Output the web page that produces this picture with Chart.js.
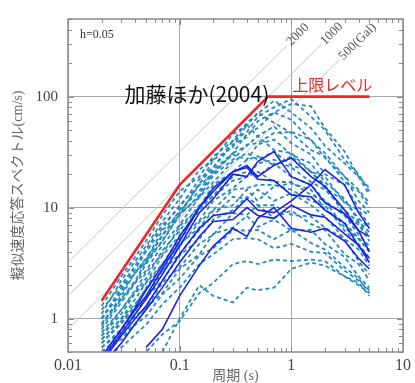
<!DOCTYPE html>
<html>
<head>
<meta charset="utf-8">
<script src="https://cdn.jsdelivr.net/npm/chart.js@4.4.0/dist/chart.umd.min.js"></script>
<style>
  html, body { margin: 0; padding: 0; background: #fff; }
</style>
</head>
<body>
<canvas id="chart" width="415" height="383"></canvas>
<script>
// periods (s) shared by all observed spectra
const periods = [0.02, 0.03, 0.04, 0.05, 0.07, 0.1, 0.15, 0.2, 0.3, 0.4, 0.5, 0.7, 1, 1.5, 2, 3, 4, 5];

// dashed records (cm/s)
const dashed01 = [1.3, 2.4, 3.6, 5.0, 8.5, 14, 19, 29, 40, 58, 70, 92, 72, 52, 36, 25, 19, 13];
const dashed02 = [1.2, 2.0, 3.0, 4.2, 7, 10, 18, 23, 40, 48, 66, 80, 95, 66, 50, 27, 20, 14];
const dashed03 = [1.0, 1.8, 2.6, 3.5, 5.5, 9.5, 14, 22, 31, 46, 52, 72, 86, 82, 52, 32, 19, 15];
const dashed04 = [1.1, 2.2, 3.3, 4.5, 7.5, 12, 22, 27, 46, 55, 72, 58, 47, 33, 29, 17, 14, 10];
const dashed05 = [1.0, 1.9, 2.8, 4.0, 6.5, 10.5, 16, 27, 35, 56, 44, 54, 38, 30, 20, 16, 10, 8.5];
const dashed06 = [0.9, 1.6, 2.6, 3.4, 6.2, 9, 16, 20, 31, 36, 44, 33, 31, 21, 19, 11, 9.5, 7];
const dashed07 = [0.85, 1.5, 2.1, 3.1, 5, 8.5, 13, 21, 30, 27, 37, 41, 30, 25, 17, 12, 7.5, 6];
const dashed08 = [0.8, 1.4, 2.1, 2.7, 4.6, 7, 12.5, 17, 26, 31, 27, 32, 24, 21, 15, 11.5, 8, 6.5];
const dashed09 = [0.75, 1.2, 1.8, 2.6, 3.8, 6.8, 10, 16, 21, 27, 29, 24, 29, 21, 16, 8.5, 7, 5];
const dashed10 = [0.7, 1.1, 1.7, 2.1, 3.7, 5.6, 9.5, 13, 19, 21, 19, 25, 19, 16, 11.5, 8.5, 5.7, 4.5];
const dashed11 = [0.65, 1.0, 1.5, 2.1, 3.1, 5.3, 7.6, 11.5, 15, 19, 21, 17, 17, 13, 11.5, 6.6, 5.2, 4];
const dashed12 = [0.6, 0.95, 1.3, 1.9, 3.1, 4.5, 7.4, 9.5, 14.5, 15, 16, 16, 14.5, 11.5, 10.5, 6.2, 4.7, 3.5];
const dashed13 = [0.6, 0.9, 1.25, 1.55, 2.7, 3.8, 6.3, 8.5, 12.5, 12, 14.5, 11.5, 13.5, 10.5, 8.3, 5.2, 4.2, 3];
const dashed14 = [0.55, 0.8, 1.1, 1.55, 2.2, 3.7, 5.2, 7.8, 9.5, 12.5, 10.5, 10.5, 8.6, 8.3, 6.6, 5.2, 3.3, 2.5];
const dashed15 = [0.55, 0.75, 1.05, 1.25, 2.1, 2.9, 4.7, 5.7, 8.9, 8.6, 10.5, 8.1, 9.4, 7.1, 6.3, 3.8, 3.1, 2.2];
const dashed16 = [0.5, 0.7, 0.9, 1.25, 1.7, 2.8, 3.8, 5.8, 6.6, 8.4, 6.7, 7.8, 6.2, 6.3, 4.7, 3.6, 2.4, 1.9];
const dashed17 = [0.5, 0.65, 0.88, 1.05, 1.65, 2.3, 3.7, 4.3, 6.3, 6.2, 6.3, 5.2, 6.3, 4.8, 4.2, 2.9, 2.3, 1.7];
const dashed18 = [0.45, 0.55, 0.72, 0.88, 1.35, 1.9, 3.1, 3.8, 5.2, 5.3, 5.2, 4.3, 4.7, 4.0, 3.9, 2.7, 2.2, 1.8];
const dashed19 = [null, 0.4, 0.45, 0.5, 0.72, 0.95, 1.7, 2.1, 3.1, 3.3, 3.1, 3.4, 3.3, 3.4, 3.3, 2.4, 2.1, 1.6];
const dashed20 = [null, null, null, null, 0.5, 1.0, 2.0, 1.6, 1.4, 1.9, 1.8, 1.9, 2.8, 3.2, 3.0, 2.4, 2.0, 1.7];
const dashed21 = [1.0, 1.7, 2.6, 3.2, 5.7, 8.6, 16.5, 23, 37, 43, 60, 72, 62, 40, 31, 19, 14.5, 11];
const dashed22 = [0.9, 1.5, 2.2, 3.3, 5.0, 8.8, 12.5, 19.5, 27, 37, 38, 47, 48, 41, 28, 19, 11.5, 9];
const dashed23 = [0.7, 1.2, 1.75, 2.3, 4.1, 6.2, 10.5, 12.5, 17.5, 19, 25, 27, 23, 17, 14.5, 9.5, 7.3, 5.5];
const dashed24 = [0.65, 1.0, 1.35, 1.85, 2.7, 4.7, 6.6, 9.4, 10.5, 14.5, 11.5, 15.5, 16.5, 14.5, 9.6, 7.3, 5.3, 4.2];

// solid records (cm/s)
const solid1 = [0.42, 0.74, 1.1, 1.5, 2.5, 4.5, 9, 12, 20, 19, 26, 32, 19, 16, 11, 8.8, 6.2, 5.5];
const solid2 = [0.4, 0.7, 1.0, 1.3, 2.2, 3.8, 6.5, 8.5, 9, 12, 9.5, 9, 11.5, 16, 22, 16, 9, 6.5];
const solid3 = [0.45, 0.8, 1.2, 1.6, 2.8, 5, 10, 14, 21, 23, 18, 17.5, 13, 12.5, 9.5, 7.2, 4.5, 3.5];
const solid4 = [null, null, null, 0.55, 0.8, 1.6, 3, 4.5, 6.5, 5.5, 8, 10, 6.5, 6, 6.5, 5, 3.5, 2.8];
const solid5 = [0.45, 0.8, 1.25, 1.8, 3, 5.5, 10, 15, 21, 24, 19, 24, 28, 19, 15.5, 9.5, 6.2, 4];
const solid6 = [0.38, 0.6, 0.9, 1.2, 1.9, 3.2, 5.5, 7.5, 7.8, 10, 8.5, 8, 10.5, 8.6, 8.2, 5.8, 4.6, 3.2];

// upper limit level (加藤ほか 2004)
const limitT = [0.02, 0.1, 0.62, 5];
const limitSv = [1.45, 16, 100, 100];

// constant acceleration guide lines, end points
const galLabels = ['2000', '1000', '500(Gal)'];
const galT = [[0.01, 0.92], [0.01, 1.85], [0.01, 2.7]];
const galSv = [[3.2, 290], [1.6, 295], [0.8, 215]];

const xTickLabels = [0.01, 0.1, 1, 10];
const yTickLabels = [1, 10, 100];

const dashedSeries = [dashed01, dashed02, dashed03, dashed04, dashed05, dashed06, dashed07, dashed08,
  dashed09, dashed10, dashed11, dashed12, dashed13, dashed14, dashed15, dashed16, dashed17, dashed18,
  dashed19, dashed20, dashed21, dashed22, dashed23, dashed24];
const solidSeries = [solid1, solid2, solid3, solid4, solid5, solid6];

const toPoints = (xs, ys) => xs.map((t, i) => ({ x: t, y: ys[i] })).filter(p => p.y != null);
const near = (v, list) => list.some(m => Math.abs(v - m) / m < 1e-6);

const datasets = [];
datasets.push({ data: toPoints(limitT, limitSv), borderColor: 'rgb(236,40,40)', borderWidth: 2.6 });
solidSeries.forEach(s => datasets.push({ data: toPoints(periods, s), borderColor: 'rgb(25,35,230)', borderWidth: 1.6 }));
dashedSeries.forEach(s => datasets.push({ data: toPoints(periods, s), borderColor: 'rgb(38,140,192)', borderWidth: 1.8, borderDash: [4, 3] }));
galT.forEach((t, i) => datasets.push({ data: toPoints(t, galSv[i]), borderColor: '#c4c4c4', borderWidth: 1 }));

// frame, inward ticks and text labels
const decor = {
  id: 'decor',
  afterDraw(chart) {
    const { ctx, chartArea: a, scales: { x, y } } = chart;
    ctx.save();
    ctx.strokeStyle = '#8a8a8a';
    ctx.lineWidth = 1;
    ctx.beginPath();
    for (let d = -2; d <= 0; d++) {
      for (let k = 1; k <= 9; k++) {
        const px = Math.round(x.getPixelForValue(k * Math.pow(10, d))) + 0.5;
        const len = k === 1 ? 6 : 4;
        ctx.moveTo(px, a.bottom); ctx.lineTo(px, a.bottom - len);
        ctx.moveTo(px, a.top); ctx.lineTo(px, a.top + len);
      }
    }
    for (let d = -1; d <= 2; d++) {
      for (let k = 1; k <= 9; k++) {
        const v = k * Math.pow(10, d);
        if (v < 0.5 || v > 500) continue;
        const py = Math.round(y.getPixelForValue(v)) + 0.5;
        const len = k === 1 ? 6 : 4;
        ctx.moveTo(a.left, py); ctx.lineTo(a.left + len, py);
        ctx.moveTo(a.right, py); ctx.lineTo(a.right - len, py);
      }
    }
    ctx.stroke();
    ctx.lineWidth = 1.5;
    ctx.strokeRect(a.left, a.top, a.right - a.left, a.bottom - a.top);

    ctx.textBaseline = 'middle';
    ctx.textAlign = 'left';
    ctx.fillStyle = '#333';
    ctx.font = '12px "Liberation Serif", serif';
    ctx.fillText('h=0.05', a.left + 12, a.top + 16);

    ctx.fillStyle = '#555';
    ctx.font = '13px "Liberation Serif", serif';
    galLabels.forEach((lab, i) => {
      const x0 = x.getPixelForValue(galT[i][0]), y0 = y.getPixelForValue(galSv[i][0]);
      const x1 = x.getPixelForValue(galT[i][1]), y1 = y.getPixelForValue(galSv[i][1]);
      const ang = Math.atan2(y1 - y0, x1 - x0);
      ctx.save();
      ctx.translate(x1, y1);
      ctx.rotate(ang);
      ctx.fillText(lab, 2, 0);
      ctx.restore();
    });

    ctx.fillStyle = '#111';
    ctx.font = '21px "Noto Sans CJK JP", sans-serif';
    ctx.fillText('加藤ほか(2004)', x.getPixelForValue(0.032), y.getPixelForValue(106));
    ctx.fillStyle = 'rgb(236,40,40)';
    ctx.font = '16px "Noto Sans CJK JP", sans-serif';
    ctx.fillText('上限レベル', x.getPixelForValue(1.02), y.getPixelForValue(128));
    ctx.restore();
  }
};

Chart.defaults.font.family = '"Liberation Serif", "Noto Sans CJK JP", serif';

new Chart(document.getElementById('chart').getContext('2d'), {
  type: 'line',
  data: { datasets },
  options: {
    responsive: false,
    animation: false,
    layout: { padding: { top: 14, right: 8, left: 0, bottom: 0 } },
    elements: { point: { radius: 0 }, line: { tension: 0, fill: false } },
    plugins: { legend: { display: false }, tooltip: { enabled: false } },
    scales: {
      x: {
        type: 'logarithmic',
        min: 0.01,
        max: 10,
        afterFit: s => { s.height = 31; },
        grid: {
          drawTicks: false,
          color: c => near(c.tick.value, xTickLabels) ? '#a8a8a8' : 'rgba(0,0,0,0)'
        },
        border: { display: false },
        ticks: {
          autoSkip: false,
          maxRotation: 0,
          padding: 4,
          color: '#444',
          font: { size: 16 },
          callback: v => near(v, xTickLabels) ? String(v) : ''
        },
        title: {
          display: true,
          text: '周期 (s)',
          color: '#666',
          font: { size: 14, lineHeight: 1 },
          padding: { top: 0, bottom: 0 }
        }
      },
      y: {
        type: 'logarithmic',
        min: 0.5,
        max: 500,
        afterFit: s => { s.width = 68; },
        grid: {
          drawTicks: false,
          color: c => near(c.tick.value, yTickLabels) ? '#a8a8a8' : 'rgba(0,0,0,0)'
        },
        border: { display: false },
        ticks: {
          autoSkip: false,
          padding: 10,
          color: '#444',
          font: { size: 15 },
          callback: v => near(v, yTickLabels) ? String(v) : ''
        },
        title: {
          display: true,
          text: '擬似速度応答スペクトル(cm/s)',
          color: '#666',
          font: { size: 14, lineHeight: 1 },
          padding: { top: 11, bottom: 0 }
        }
      }
    }
  },
  plugins: [decor]
});
</script>
</body>
</html>
